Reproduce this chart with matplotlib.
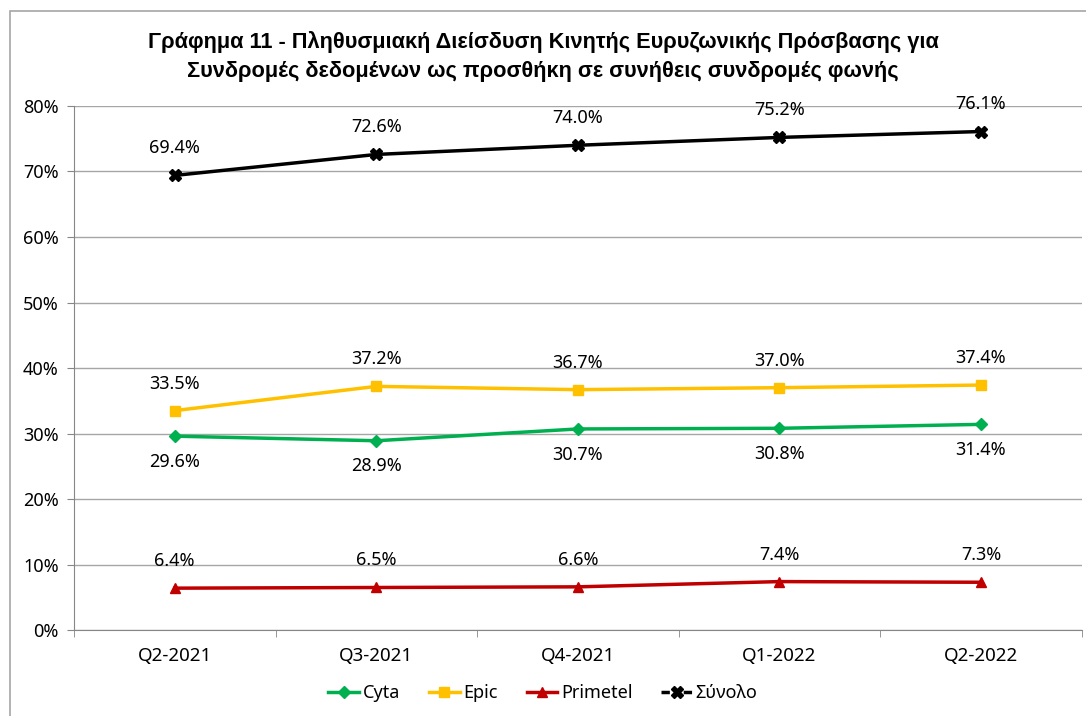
import matplotlib.pyplot as plt
from matplotlib.patches import Rectangle
from matplotlib.lines import Line2D
import numpy as np

# Data
quarters = ['Q2-2021', 'Q3-2021', 'Q4-2021', 'Q1-2022', 'Q2-2022']
cyta = [29.6, 28.9, 30.7, 30.8, 31.4]
epic = [33.5, 37.2, 36.7, 37.0, 37.4]
primetel = [6.4, 6.5, 6.6, 7.4, 7.3]
total = [69.4, 72.6, 74.0, 75.2, 76.1]

title = ('Γράφημα 11 - Πληθυσμιακή Διείσδυση Κινητής Ευρυζωνικής Πρόσβασης για\n'
         'Συνδρομές δεδομένων ως προσθήκη σε συνήθεις συνδρομές φωνής')

plt.rcParams['font.family'] = ['Noto Sans', 'DejaVu Sans']

fig = plt.figure(figsize=(10.86, 7.16), dpi=100)
ax = fig.add_axes([0.0681, 0.120, 0.928, 0.732])

x = np.arange(len(quarters))
series = [
    ('Cyta', cyta, '#00B050', 'D', 6, -1),
    ('Epic', epic, '#FFC000', 's', 7, 1),
    ('Primetel', primetel, '#C00000', '^', 7, 1),
    ('Σύνολο', total, 'black', 'X', 8, 1),
]
handles = []
for name, vals, col, mk, ms, side in series:
    ax.plot(x, vals, color=col, lw=2.5, marker=mk, markersize=ms, zorder=3)
    # legend entry (total uses a short dashed look like the original)
    ls = (0, (2.4, 4.0)) if name == 'Σύνολο' else '-'
    handles.append(Line2D([], [], color=col, lw=2.5, ls=ls, marker=mk,
                          markersize=ms, label=name))
    for xi, v in zip(x, vals):
        off = 13 if side > 0 else -12
        ax.annotate(f'{v:.1f}%', (xi, v), xytext=(0, off), textcoords='offset points',
                    ha='center', va='bottom' if side > 0 else 'top', fontsize=13)

ax.set_xlim(-0.5, len(quarters) - 0.5)
ax.set_ylim(0, 80)
ax.set_yticks(np.arange(0, 81, 10))
ax.set_yticklabels([f'{v}%' for v in range(0, 81, 10)], fontsize=13)
ax.set_xticks(x)
ax.set_xticklabels(quarters, fontsize=13.5)
ax.set_xticks(np.arange(-0.5, len(quarters), 1), minor=True)
ax.tick_params(axis='x', which='major', length=0, pad=12)
ax.tick_params(axis='x', which='minor', length=5, color='#868686')
ax.tick_params(axis='y', length=5, color='#868686', pad=6)
ax.grid(axis='y', color='#A6A6A6', lw=1)
ax.set_axisbelow(True)
for s in ['top', 'right']:
    ax.spines[s].set_visible(False)
for s in ['left', 'bottom']:
    ax.spines[s].set_color('#868686')

fig.text(0.5, 0.921, title, ha='center', va='center', fontsize=15.7, fontweight='bold',
         family=['Liberation Sans Narrow', 'Liberation Sans', 'DejaVu Sans'],
         linespacing=1.5)

fig.legend(handles=handles, loc='center', bbox_to_anchor=(0.5, 0.032), ncol=4,
           frameon=False, fontsize=13, handlelength=1.7, handletextpad=0.2,
           columnspacing=1.6)

fig.patches.append(Rectangle((10 / 1086, -0.05), 1.1, 1.05 - 11 / 716,
                             transform=fig.transFigure, fill=False,
                             edgecolor='#A6A6A6', lw=1.2))

plt.savefig('out.png', dpi=100)
